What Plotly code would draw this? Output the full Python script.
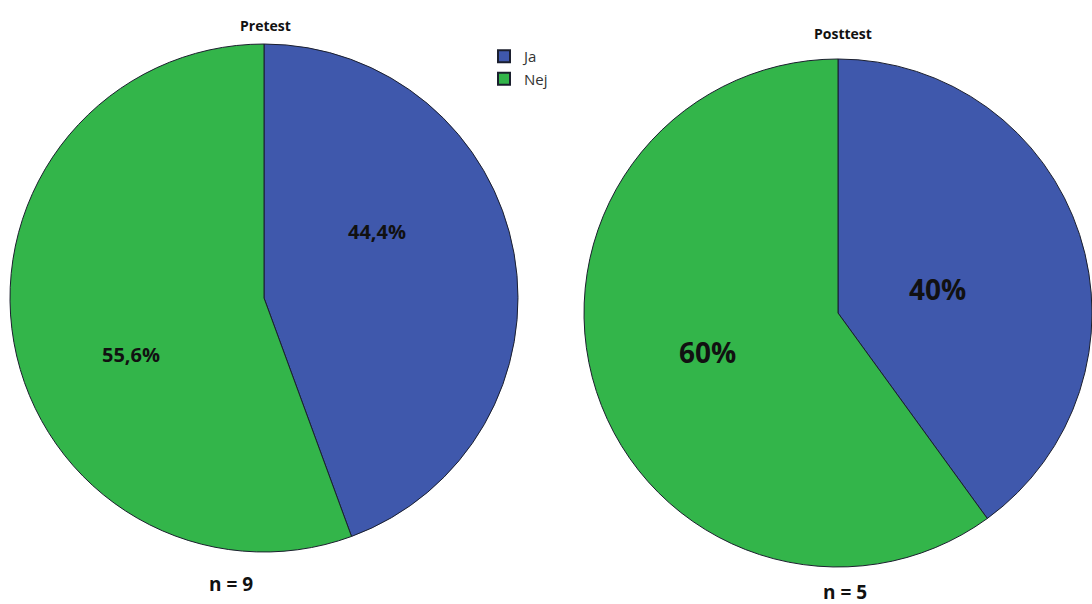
import plotly.graph_objects as go

W, H = 1092, 604

labels = ["Ja", "Nej"]
pretest_pct = [44.4, 55.6]
posttest_pct = [40, 60]
pretest_n = 9
posttest_n = 5
colors = ["#3F58AC", "#33B54A"]


def fmt(v):
    s = f"{v:g}"
    return s.replace(".", ",") + "%"


def px(x):
    return x / W


def py(y):
    return 1 - y / H


fig = go.Figure()

# Left pie: centre (264, 298), radius 254
fig.add_trace(go.Pie(
    labels=labels, values=pretest_pct, sort=False, direction="clockwise",
    rotation=0, textinfo="none", hoverinfo="label+percent",
    marker=dict(colors=colors, line=dict(color="#1b1f2e", width=1)),
    domain=dict(x=[px(10), px(518)], y=[py(552), py(44)]),
    showlegend=True,
))

# Right pie: centre (838, 313), radius 254
fig.add_trace(go.Pie(
    labels=labels, values=posttest_pct, sort=False, direction="clockwise",
    rotation=0, textinfo="none", hoverinfo="label+percent",
    marker=dict(colors=colors, line=dict(color="#1b1f2e", width=1)),
    domain=dict(x=[px(584), 1.0], y=[py(567), py(59)]),
    showlegend=False,
))

txt = dict(family="Open Sans, DejaVu Sans, sans-serif", color="#111111")
annotations = [
    dict(x=px(377), y=py(232), text=f"<b>{fmt(pretest_pct[0])}</b>", font=dict(size=20, **txt)),
    dict(x=px(131), y=py(354), text=f"<b>{fmt(pretest_pct[1])}</b>", font=dict(size=20, **txt)),
    dict(x=px(937), y=py(289), text=f"<b>{fmt(posttest_pct[0])}</b>", font=dict(size=28, **txt)),
    dict(x=px(707), y=py(352), text=f"<b>{fmt(posttest_pct[1])}</b>", font=dict(size=28, **txt)),
    dict(x=px(265), y=py(25), text="<b>Pretest</b>", font=dict(size=14, **txt)),
    dict(x=px(843), y=py(33), text="<b>Posttest</b>", font=dict(size=14, **txt)),
    dict(x=px(231), y=py(584), text=f"<b>n = {pretest_n}</b>", font=dict(size=19, **txt)),
    dict(x=px(845), y=py(592), text=f"<b>n = {posttest_n}</b>", font=dict(size=19, **txt)),
]
for a in annotations:
    a.update(xref="paper", yref="paper", showarrow=False, xanchor="center", yanchor="middle")

fig.update_layout(
    width=W, height=H,
    margin=dict(l=0, r=0, t=0, b=0),
    paper_bgcolor="white", plot_bgcolor="white",
    annotations=annotations,
    legend=dict(
        x=px(484), y=py(40), xanchor="left", yanchor="top",
        font=dict(family="Open Sans, DejaVu Sans, sans-serif", size=15, color="#333333"),
        bgcolor="rgba(0,0,0,0)", tracegroupgap=0, itemsizing="constant",
    ),
)

fig.write_html("out.html")
